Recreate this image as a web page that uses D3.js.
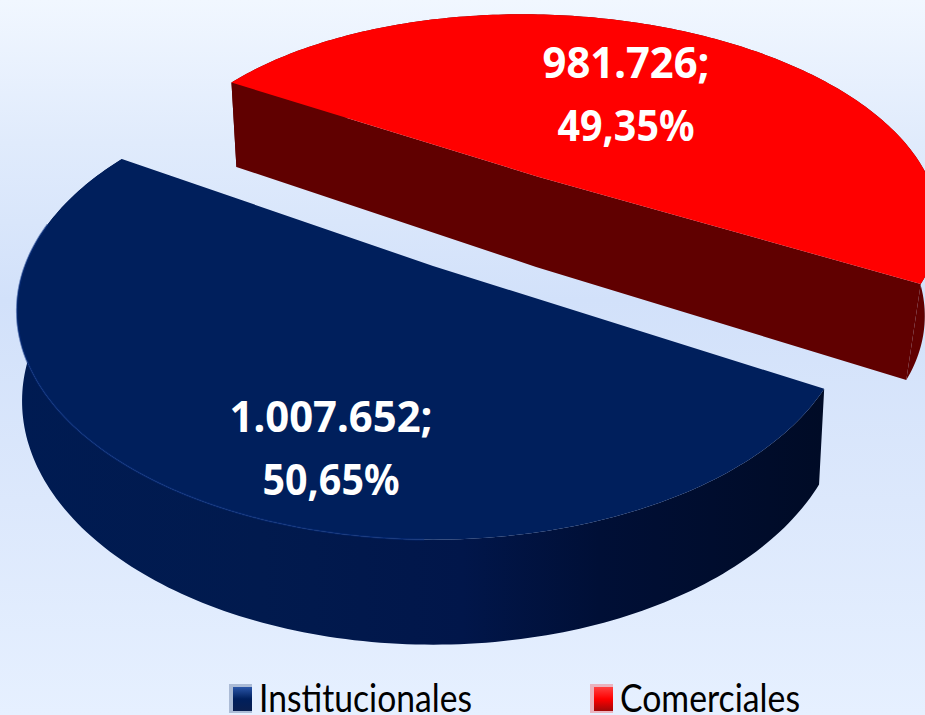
<!DOCTYPE html>
<html><head><meta charset="utf-8">
<script src="https://cdn.jsdelivr.net/npm/d3@7"></script>
<style>html,body{margin:0;padding:0;overflow:hidden;background:#e5effe}svg{display:block}</style>
</head><body><svg id="c" width="925" height="715"></svg>
<script>
const categories = ["Institucionales", "Comerciales"];
const values = [1007652, 981726];
const topColors = ["#001f5c", "#ff0000"];
const wallColors = ["url(#side0)", "#600000"];
const cutColors = [null, "#600000"];
const sliceOffset = [[0, 0], [0.282, -0.44]];
const sliceScale = [1, 1.035];
const sliceDepth = [1, 1.1];
const sliceConverge = [0.012, 0.03];
const legendX = [230, 591];
const legendTextX = [259, 620];
const legendTextW = [213, 180];

const W = 925, H = 715;
const svg = d3.select("#c");
const defs = svg.append("defs");
const toRad = d => d * Math.PI / 180;

const bg = defs.append("linearGradient").attr("id","bg").attr("x1",0).attr("y1",0).attr("x2",0).attr("y2",1);
[[0,"#f1f7ff"],[0.2,"#e0ebfc"],[0.42,"#d2e1fa"],[0.7,"#dce8fc"],[1,"#e6f0ff"]].forEach(s=>bg.append("stop").attr("offset",s[0]).attr("stop-color",s[1]));
svg.append("rect").attr("width",W).attr("height",H).attr("fill","url(#bg)");

const blueSide = defs.append("linearGradient").attr("id","side0").attr("gradientUnits","userSpaceOnUse").attr("x1",20).attr("x2",825).attr("y1",0).attr("y2",0);
[[0,"#001b52"],[0.3,"#011a4e"],[0.55,"#01164a"],[0.72,"#000f36"],[1,"#000b26"]].forEach(s=>blueSide.append("stop").attr("offset",s[0]).attr("stop-color",s[1]));

// perspective projection of the pie disc
const ox = 433, oy = 266, Rx = 408, Ry = 220, k = 0.196, D = 89;
function proj(X, Y, Z, i) {
  const w = 1 - k * Y + sliceConverge[i] * Z;
  return [ox + Rx * X / w, oy + (Ry * Y + D * sliceDepth[i] * Z) / w];
}

const pie = d3.pie().sort(null).startAngle(toRad(120.2)).endAngle(toRad(480.2));
const arcs = pie(values);
const line = d3.line();

function sliceGeom(a, i) {
  const [ex, ey] = sliceOffset[i], s = sliceScale[i];
  const rim = d3.range(0, 181).map(t => a.startAngle + (a.endAngle - a.startAngle) * t / 180);
  const at = (th, Z) => proj(ex + s * Math.sin(th), ey - s * Math.cos(th), Z, i);
  return {
    rimTop: rim.map(t => at(t, 0)),
    rimBot: rim.map(t => at(t, 1)),
    cTop: proj(ex, ey, 0, i),
    cBot: proj(ex, ey, 1, i)
  };
}

const geoms = arcs.map(sliceGeom);
[1, 0].forEach(i => {
  const g = geoms[i];
  const grp = svg.append("g").attr("class", "slice-" + categories[i]);
  const e = g.rimTop.length - 1;
  // outer wall
  grp.append("path")
    .attr("d", line(g.rimTop.concat(g.rimBot.slice().reverse()))+"Z")
    .attr("fill", wallColors[i]);
  // cut face, as one shape so no seam shows at the centre
  if (cutColors[i]) {
    grp.append("path")
      .attr("d", line([g.rimTop[0], g.cTop, g.rimTop[e], g.rimBot[e], g.cBot, g.rimBot[0]])+"Z")
      .attr("fill", cutColors[i]);
  }
  // top face
  grp.append("path").attr("d", line([g.cTop].concat(g.rimTop))+"Z").attr("fill", topColors[i]);
  if (i === 0) {
    grp.append("path").attr("d", line(g.rimTop.slice(60, 160))).attr("fill","none")
      .attr("stroke","#0a2f80").attr("stroke-width",2).attr("stroke-opacity",0.55);
  }
});

// data labels
const loc = d3.formatLocale({decimal:",",thousands:".",grouping:[3],currency:["",""],percent:"%"});
const fmtNum = loc.format(",d");
const fmtPct = loc.format(".2%");
const total = d3.sum(values);
const labelPos = [[331, 432, 495], [626, 78, 141]];
const labelW = [[203, 137], [167, 137]];
values.forEach((v, i) => {
  const lines = [fmtNum(v) + ";", fmtPct(v / total)];
  lines.forEach((t, j) => {
    svg.append("text").attr("x", labelPos[i][0]).attr("y", labelPos[i][j + 1])
      .attr("text-anchor","middle").attr("fill","#fff")
      .attr("font-family","'Noto Sans','Open Sans',sans-serif").attr("font-weight",700)
      .attr("font-size",43).attr("textLength",labelW[i][j]).attr("lengthAdjust","spacingAndGlyphs")
      .text(t);
  });
});

// legend
const swatch = [["#2a55a8","#001f5c","#0a1f50"],["#ff4040","#ff0000","#a00808"]];
categories.forEach((c, i) => {
  const gid = "sw" + i;
  const lg = defs.append("linearGradient").attr("id",gid).attr("x1",0).attr("x2",0).attr("y1",0).attr("y2",1);
  swatch[i].forEach((col, j) => lg.append("stop").attr("offset", j / 2).attr("stop-color", col));
  svg.append("rect").attr("x",legendX[i]-1).attr("y",684).attr("width",23).attr("height",29)
    .attr("fill",topColors[i]).attr("opacity",0.25);
  svg.append("rect").attr("x",legendX[i]+3).attr("y",687).attr("width",19).attr("height",24)
    .attr("fill",`url(#${gid})`);
  svg.append("text").attr("x",legendTextX[i]).attr("y",712).attr("fill","#000")
    .attr("font-family","Lato,'Liberation Sans',sans-serif")
    .attr("font-size",38).attr("textLength",legendTextW[i]).attr("lengthAdjust","spacingAndGlyphs")
    .text(c);
});
</script></body></html>
